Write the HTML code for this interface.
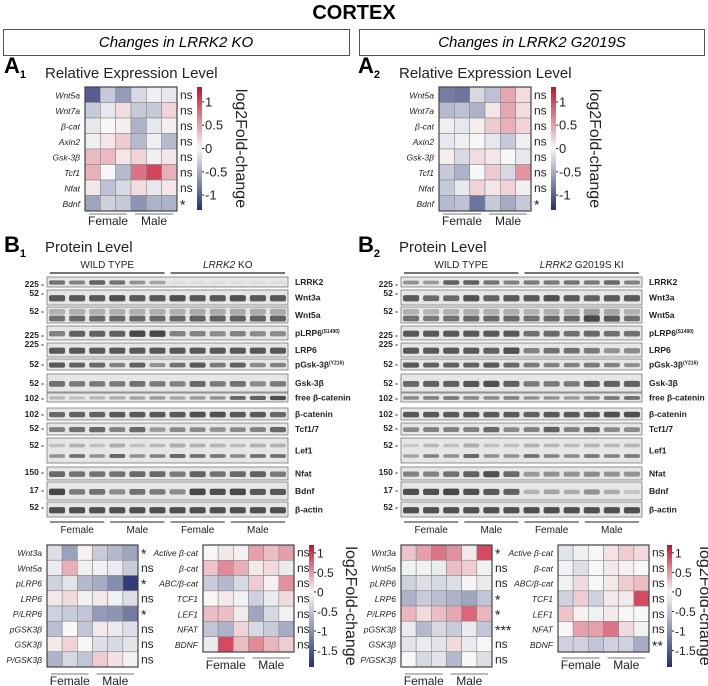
<!DOCTYPE html>
<html><head><meta charset="utf-8">
<style>
html,body{margin:0;padding:0;background:#fff;}
svg{display:block;font-family:"Liberation Sans",Arial,sans-serif;}
</style></head>
<body>
<svg id="fig" width="708" height="686" viewBox="0 0 708 686" xmlns="http://www.w3.org/2000/svg">
<defs>
<linearGradient id="cbar" x1="0" y1="0" x2="0" y2="1">
<stop offset="0" stop-color="#c8102e"/><stop offset="0.5" stop-color="#f7f7f7"/><stop offset="1" stop-color="#24306e"/>
</linearGradient>
<linearGradient id="cbar2" x1="0" y1="0" x2="0" y2="1">
<stop offset="0" stop-color="#c8102e"/><stop offset="0.385" stop-color="#f7f7f7"/><stop offset="1" stop-color="#24306e"/>
</linearGradient>
</defs>
<text x="354" y="19" font-size="20" font-weight="bold" text-anchor="middle">CORTEX</text>
<rect x="3.5" y="29.5" width="346" height="26" fill="none" stroke="#555"/>
<text x="176" y="47" font-size="15" font-style="italic" text-anchor="middle">Changes in LRRK2 KO</text>
<rect x="359.5" y="29.5" width="345" height="26" fill="none" stroke="#555"/>
<text x="532" y="47" font-size="15" font-style="italic" text-anchor="middle">Changes in LRRK2 G2019S</text>
<g id="root"></g>
</svg>
<script>
// ---------- DATA ----------
const genesA = ["Wnt5a","Wnt7a","β-cat","Axin2","Gsk-3β","Tcf1","Nfat","Bdnf"];
const sigA1 = ["ns","ns","ns","ns","ns","ns","ns","*"];
const sigA2 = ["ns","ns","ns","ns","ns","ns","ns","*"];
const valsA1 = [
 [-1.0,-0.3,-0.6,-0.2,-0.05,-0.1],
 [-0.3,-0.1,0.15,-0.3,-0.3,0.2],
 [-0.1,0,0.05,-0.45,-0.1,0.05],
 [-0.05,0.1,0.25,-0.4,-0.05,-0.4],
 [0.35,0.35,0.1,0.2,-0.05,0.1],
 [0.4,0,-0.4,0.75,1.0,0.4],
 [0.1,-0.35,-0.2,0.15,-0.1,0.1],
 [-0.55,-0.25,-0.3,-0.65,-0.45,-0.45]];
const valsA2 = [
 [-0.8,-0.85,-0.2,-0.35,0.45,0.15],
 [-0.4,-0.35,-0.45,0.1,0.45,0.15],
 [-0.05,-0.1,0.05,0.25,0.4,0.2],
 [-0.1,-0.05,0,-0.1,-0.3,-0.05],
 [0.05,-0.2,0.15,0.1,0,-0.1],
 [-0.3,-0.45,0,0.25,-0.2,0.55],
 [-0.3,-0.1,0.2,0.1,0.2,0.05],
 [-0.4,-0.35,-0.85,-0.3,-0.5,-0.3]];
const protL = ["Wnt3a","Wnt5a","pLRP6","LRP6","P/LRP6","pGSK3β","GSK3β","P/GSK3β"];
const protR = ["Active β-cat","β-cat","ABC/β-cat","TCF1","LEF1","NFAT","BDNF"];
const sigB1L = ["*","ns","*","ns","*","ns","ns","ns"];
const sigB1R = ["ns","ns","ns","ns","ns","ns","ns"];
const sigB2L = ["*","ns","ns","*","*","***","ns","ns"];
const sigB2R = ["ns","ns","ns","ns","ns","ns","**"];
const valsB1L = [
 [-0.2,-0.7,0.05,-0.35,-0.5,-0.65],
 [-0.1,0.5,-0.05,-0.05,-0.1,-0.35],
 [-0.3,-0.15,-0.5,-0.6,-0.85,-1.5],
 [0.1,0.2,-0.05,0.1,-0.05,-0.2],
 [-0.3,-0.35,-0.4,-0.75,-0.8,-1.0],
 [-0.45,0,-0.4,0.1,-0.1,-0.2],
 [0.1,0.25,0,-0.2,-0.25,-0.15],
 [-0.55,-0.25,-0.4,0.3,0.15,-0.05]];
const valsB1R = [
 [0,0.1,0.05,0.6,0.4,0.6],
 [0.35,0.75,0.5,0.1,0.2,-0.1],
 [-0.35,-0.5,-0.25,0.3,0.05,0.7],
 [0,0.1,-0.05,-0.3,-0.1,0.2],
 [0.4,0.4,0.1,-0.65,-0.25,-0.05],
 [-0.4,-0.55,0.25,-0.25,-0.35,-0.6],
 [-0.1,1.2,0.4,0.75,0.45,0.3]];
const valsB2L = [
 [0.35,0.6,0.9,0.7,0.1,1.2],
 [-0.05,-0.05,-0.1,0.4,0.3,-0.05],
 [-0.3,-0.2,-0.25,-0.2,0.02,-0.1],
 [-0.55,-0.35,-0.45,-0.55,-0.65,-0.4],
 [0.45,0.2,0.4,0.55,1.0,0.45],
 [-0.1,-0.5,-0.25,-0.35,-0.1,-0.4],
 [-0.15,-0.1,-0.15,0.2,-0.1,0],
 [0,-0.25,-0.15,-0.5,0,-0.2]];
const valsB2R = [
 [-0.15,-0.05,0,0.15,0.3,0.2],
 [-0.05,-0.2,0,0.1,0.05,0],
 [-0.05,0.2,0,0.1,0.3,0.4],
 [-0.3,0.3,-0.3,0.1,0.1,1.2],
 [0.35,0.05,-0.05,0.1,0,0],
 [0,0.6,0.6,0.9,0.2,-0.05],
 [-0.3,-0.3,-0.4,-0.3,-0.3,-0.6]];
const cbTicksTop = [1,0.5,0,-0.5,-1];
const cbTicksBot = [1,0.5,0,-0.5,-1,-1.5];
const blotNames = ["LRRK2","Wnt3a","Wnt5a","pLRP6","LRP6","pGsk-3β","Gsk-3β","free β-catenin","β-catenin","Tcf1/7","Lef1","Nfat","Bdnf","β-actin"];
const blotMW = ["225","52","52","225","225","52","52","102","102","52","52","150","17","52"];
const blot1 = [
 [.7,.6,.8,.7,.5,.4,.05,.05,.05,.05,.05,.05],
 [.85,.85,.85,.9,.85,.85,.9,.85,.85,.9,.85,.85],
 [.7,.75,.75,.75,.75,.75,.75,.8,.8,.8,.8,.8],
 [.6,.8,.8,.8,.95,.95,.6,.6,.55,.6,.55,.55],
 [.85,.85,.85,.85,.85,.85,.85,.85,.85,.85,.85,.85],
 [.85,.8,.75,.6,.8,.5,.7,.85,.65,.8,.55,.6],
 [.7,.65,.65,.65,.7,.65,.6,.75,.65,.7,.55,.65],
 [.3,.25,.3,.35,.4,.45,.4,.45,.5,.75,.8,.9],
 [.75,.8,.8,.85,.85,.85,.85,.9,.9,.85,.85,.75],
 [.6,.7,.75,.6,.75,.45,.55,.55,.5,.55,.6,.75],
 [.5,.7,.5,.75,.5,.6,.75,.7,.65,.55,.7,.7],
 [.75,.7,.7,.7,.75,.75,.65,.8,.7,.75,.8,.65],
 [.95,.65,.7,.55,.7,.65,.55,.95,.9,.95,.85,.85],
 [.9,.9,.9,.9,.9,.9,.92,.92,.9,.9,.9,.9]];
const blot2 = [
 [.5,.45,.8,.8,.7,.6,.65,.65,.7,.65,.75,.6],
 [.85,.75,.75,.9,.8,.85,.85,.9,.85,.8,.85,.85],
 [.7,.65,.7,.75,.75,.75,.7,.75,.75,.95,.85,.7],
 [.85,.85,.85,.85,.85,.85,.7,.75,.7,.75,.7,.7],
 [.85,.85,.85,.85,.8,.9,.6,.7,.7,.65,.5,.55],
 [.85,.8,.8,.8,.85,.75,.65,.6,.6,.65,.6,.5],
 [.75,.8,.8,.85,.9,.8,.65,.65,.65,.8,.8,.8],
 [.55,.6,.65,.55,.55,.6,.5,.5,.45,.55,.65,.7],
 [.85,.85,.85,.85,.85,.85,.8,.85,.85,.85,.9,.9],
 [.55,.6,.6,.6,.75,.55,.6,.8,.6,.75,.55,.55],
 [.4,.6,.5,.75,.5,.5,.7,.6,.55,.65,.6,.65],
 [.6,.6,.7,.8,.9,.75,.45,.5,.5,.55,.5,.5],
 [.9,.9,.95,.9,.85,.8,.3,.4,.35,.5,.35,.2],
 [.9,.9,.9,.9,.9,.9,.92,.92,.9,.9,.9,.9]];
// ---------- HELPERS ----------
const NS="http://www.w3.org/2000/svg";
const root=document.getElementById('root');
function mk(tag,attrs,parent){const e=document.createElementNS(NS,tag);for(const k in attrs)e.setAttribute(k,attrs[k]);(parent||root).appendChild(e);return e;}
function txt(x,y,s,size,opts,parent){const t=mk('text',Object.assign({x:x,y:y,'font-size':size},opts||{}),parent);t.textContent=s;return t;}
function col(v,max){let t=Math.max(-1,Math.min(1,v/max));const w=[247,247,247],r=[200,16,46],b=[36,48,112];const c=t>=0?r:b;t=Math.abs(t);
 return `rgb(${Math.round(w[0]+(c[0]-w[0])*t)},${Math.round(w[1]+(c[1]-w[1])*t)},${Math.round(w[2]+(c[2]-w[2])*t)})`;}
function heatmap(x0,y0,w,h,labels,vals,sigs,max,fs,name){
 const g=mk('g',{});  
 const nr=labels.length,nc=vals[0].length,cw=w/nc,ch=h/nr;
 for(let i=0;i<nr;i++){for(let j=0;j<nc;j++){
   const c=mk('rect',{x:x0+j*cw,y:y0+i*ch,width:cw,height:ch,fill:col(vals[i][j],max),stroke:'#8a8a8a','stroke-width':0.6},g);
    }
  const l=txt(x0-5,y0+i*ch+ch/2+3.5,labels[i],fs,{'text-anchor':'end','font-style':'italic',fill:'#222'},g);
   
  const st=sigs[i].indexOf('*')>=0;
  const s=txt(x0+w+3,y0+i*ch+ch/2+(st?6:4),sigs[i],st?14:12,{fill:'#222'},g);
   }
 mk('rect',{x:x0,y:y0,width:w,height:h,fill:'none',stroke:'#444','stroke-width':1.2},g);
 return g;}
function sexAxis(x0,w,y,fs){
 const cw=w/6;
 [[0,'Female'],[3,'Male']].forEach(([s,n])=>{
  const ln=mk('line',{x1:x0+s*cw+4,x2:x0+(s+3)*cw-4,y1:y,y2:y,stroke:'#777','stroke-width':1});
   
  const t=txt(x0+(s+1.5)*cw,y+11,n,fs,{'text-anchor':'middle',fill:'#222'});
   });}
function colorbar(x,y0,y1,vmax,vmin,ticks,grad,titleX,fs,name){
 const g=mk('g',{});  
 mk('rect',{x:x,y:y0,width:5,height:y1-y0,fill:'url(#'+grad+')'},g);
 const sc=v=>y0+(vmax-v)/(vmax-vmin)*(y1-y0);
 ticks.forEach(v=>{mk('line',{x1:x+5,x2:x+7,y1:sc(v),y2:sc(v),stroke:'#222'},g);
  const t=txt(x+8,sc(v)+4.5,String(v),fs,{fill:'#222'},g);  });
 const tt=txt(0,0,'log2Fold-change',16,{'text-anchor':'middle',transform:`translate(${titleX},${(y0+y1)/2}) rotate(90)`,fill:'#222'},g);
  }
function panelLabel(x,y,L,n){const t=txt(x,y,L,22,{'font-weight':'bold'});
 const s=mk('tspan',{'font-size':11,dy:5},t); s.textContent=n;
  }
const rowY=[277,290,307,326,343,359,374,393,408,423,438,467,482,502];
const rowH=[10,15,16,14,14,11,18,9,12,12,25,13,18,15];
function blot(x0,data,labelX,name,grpR,mwY){
 const g=mk('g',{});  
 const w=241,lw=w/12;
 data.forEach((row,i)=>{
  const y=rowY[i],h=rowH[i];
  const strip=mk('rect',{x:x0,y:y,width:w,height:h,fill:'#e6e6e6',stroke:'#777','stroke-width':0.8},g);
   
  const bands=(i==2||i==10)?[0.3,0.72]:[0.55];
  row.forEach((v,j)=>{bands.forEach((f,k)=>{
   const a=((bands.length>1&&k==0)?v*0.45:v)*0.85;
   const bh=Math.min(h*0.45,(i==10?4:6))*(0.6+0.5*v);
   const b=mk('rect',{x:x0+j*lw+2,y:y+h*f-bh/2,width:lw-4,height:bh,rx:2,fill:'#222','fill-opacity':a},g);
    });});
  const nm=txt(labelX,y+h/2+3,blotNames[i],8.5,{'font-weight':'bold',fill:'#222'},g);
   
  if(i==3){const s=mk('tspan',{'font-size':5,dy:-3},nm);s.textContent='(S1490)';}
  if(i==5){const s=mk('tspan',{'font-size':5,dy:-3},nm);s.textContent='(Y216)';}
  const mw=txt(x0-3,mwY[i],blotMW[i]+' -',8.5,{'text-anchor':'end','font-weight':'bold',fill:'#222'},g);
   
 });
 [[0,'WILD TYPE'],[6,grpR]].forEach(([s,n])=>{
  mk('line',{x1:x0+s*lw+3,x2:x0+(s+6)*lw-3,y1:273,y2:273,stroke:'#222','stroke-width':1.2},g);
  const t=txt(x0+(s+3)*lw,268,'',10,{'text-anchor':'middle',fill:'#222'},g);
  if(s==0){t.textContent=n;} else {const a=mk('tspan',{'font-style':'italic'},t);a.textContent='LRRK2';const b=mk('tspan',{},t);b.textContent=n;}
   });
 [0,3,6,9].forEach((s,k)=>{
  mk('line',{x1:x0+s*lw+3,x2:x0+(s+3)*lw-3,y1:522,y2:522,stroke:'#222','stroke-width':1},g);
  const t=txt(x0+(s+1.5)*lw,533,k%2?'Male':'Female',10,{'text-anchor':'middle',fill:'#222'},g);
   });
}
const mwY=[287,296,314,338,347,367,386,401,417,431,448,475,493,510];
// ---------- DRAW ----------
[[0,'1'],[354,'2']].forEach(([dx,n])=>{
 panelLabel(4+dx,73,'A',n);
 const t=txt(45+dx,78,'Relative Expression Level',15,{fill:'#222'});  
 panelLabel(4+dx,252,'B',n);
 const t2=txt(45+dx,252,'Protein Level',15,{fill:'#222'});  
});
heatmap(85,87,92,124,genesA,valsA1,sigA1,1.3,8.5,'ko-mrna-heatmap');
sexAxis(85,92,214,12);
colorbar(197,87,210,1.32,-1.32,cbTicksTop,'cbar',236,13,'ko-mrna-colorbar');
heatmap(439,87,92,124,genesA,valsA2,sigA2,1.3,8.5,'g2019s-mrna-heatmap');
sexAxis(439,92,214,12);
colorbar(551,87,210,1.32,-1.32,cbTicksTop,'cbar',590,13,'g2019s-mrna-colorbar');
blot(47,blot1,295,'ko-western-blot',' KO',mwY);
blot(401,blot2,649,'g2019s-western-blot',' G2019S KI',mwY);
heatmap(47,545,91,122,protL,valsB1L,sigB1L,1.6,8.5,'ko-protein-heatmap-left');
sexAxis(47,91,674,12);
heatmap(203,545,91,107,protR,valsB1R,sigB1R,1.6,8.5,'ko-protein-heatmap-right');
sexAxis(203,91,658,12);
colorbar(309,545,667,1.2,-1.92,cbTicksBot,'cbar2',346,12,'ko-protein-colorbar');
heatmap(401,545,91,122,protL,valsB2L,sigB2L,1.6,8.5,'g2019s-protein-heatmap-left');
sexAxis(401,91,674,12);
heatmap(558,545,91,107,protR,valsB2R,sigB2R,1.6,8.5,'g2019s-protein-heatmap-right');
sexAxis(558,91,658,12);
colorbar(667,545,667,1.2,-1.92,cbTicksBot,'cbar2',700,12,'g2019s-protein-colorbar');
</script>
</body></html>
